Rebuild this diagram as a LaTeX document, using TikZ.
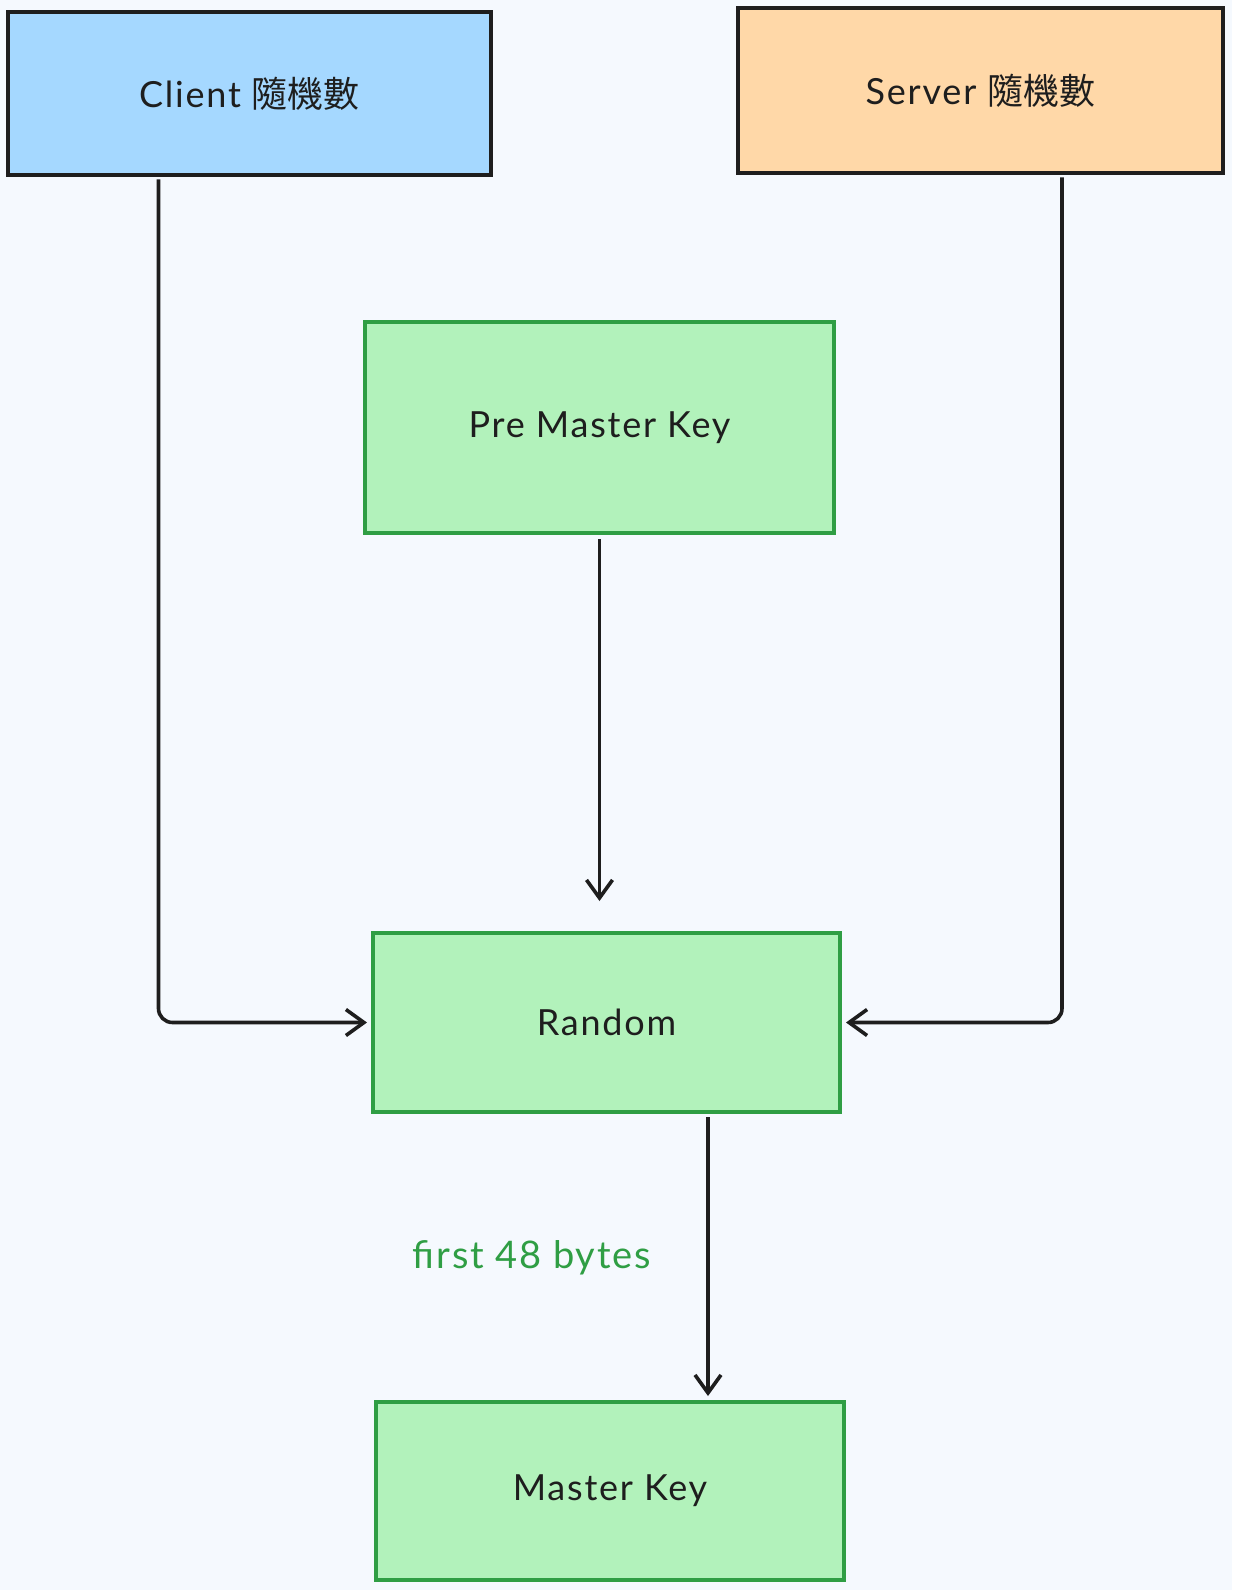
\documentclass[tikz,border=0pt]{standalone}
\usepackage{fontspec}
\setmainfont{Lato}[LetterSpace=5]
\newfontfamily\cjk{Noto Sans CJK TC}
\usetikzlibrary{arrows.meta,calc}
\definecolor{bgc}{HTML}{F5F9FE}
\definecolor{ink}{HTML}{1E1E1E}
\definecolor{blueF}{HTML}{A5D8FF}
\definecolor{orangeF}{HTML}{FFD8A8}
\definecolor{greenF}{HTML}{B2F2BB}
\definecolor{greenS}{HTML}{2F9E44}
\tikzset{
  box/.style={draw=ink, line width=2.4pt, rectangle, font=\fontsize{18pt}{21pt}\selectfont, text=ink},
  gbox/.style={draw=greenS, line width=2pt, fill=greenF, rectangle, font=\fontsize{18pt}{21pt}\selectfont, text=ink},
  arr/.style={draw=ink, line width=1.8pt, -{Straight Barb[length=9pt,width=13pt]}},
  lbl/.style={text=greenS, font=\fontsize{19pt}{22pt}\selectfont}
}
\begin{document}
\begin{tikzpicture}[x=0.5pt,y=-0.5pt]
\fill[bgc] (0,0) rectangle (1232,1590);
\useasboundingbox (0,0) rectangle (1232,1590);
\node[box, fill=blueF, minimum width=241.5pt, minimum height=81.5pt] (client) at (249.5,93.5) {Client {\cjk 隨機數}};
\node[box, fill=orangeF, minimum width=242.5pt, minimum height=82.5pt] (server) at (980.5,90.5) {Server {\cjk 隨機數}};
\node[gbox, minimum width=234.5pt, minimum height=105.5pt] (pre) at (599.5,427.5) {Pre Master Key};
\node[gbox, minimum width=233.5pt, minimum height=89.5pt] (rand) at (606.5,1022.5) {Random};
\node[gbox, minimum width=234pt, minimum height=89pt] (master) at (610,1491) {Master Key};
\coordinate (cl) at ($(client.south)+(-91,2)$);
\coordinate (sv) at ($(server.south)+(81.5,2)$);
\draw[arr, rounded corners=7pt, shorten >=2pt] (cl) |- (rand.west);
\draw[arr, rounded corners=7pt, shorten >=2pt] (sv) |- (rand.east);
\draw[arr, shorten <=2pt, shorten >=15pt] (pre.south) -- (pre.south |- rand.north);
\coordinate (rm) at ($(rand.south)+(101.5,3)$);
\draw[arr, shorten >=2pt] (rm) -- (rm |- master.north);
\node[lbl] (label) at (532,1258) {first 48 bytes};
\end{tikzpicture}
\end{document}
